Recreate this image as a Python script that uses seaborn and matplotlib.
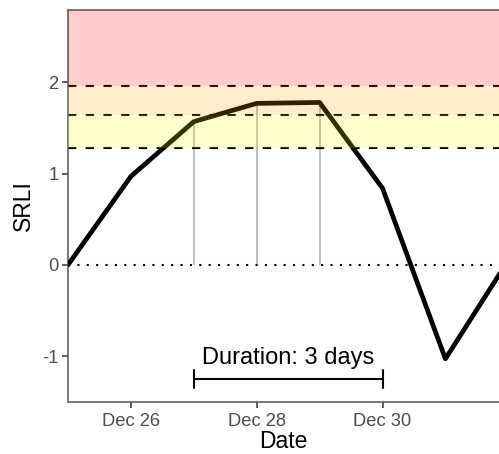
import numpy as np
import pandas as pd
import matplotlib
matplotlib.use("Agg")
import matplotlib.pyplot as plt
import matplotlib.dates as mdates
import seaborn as sns

# ---- data ----
dates = pd.date_range("2023-12-25", "2024-01-01", freq="D")
srli = [0.0, 0.97, 1.57, 1.77, 1.78, 0.84, -1.03, 0.05]
thresholds = [1.28, 1.645, 1.96]
band_colors = ["yellow", "orange", "red"]
event_dates = pd.to_datetime(["2023-12-27", "2023-12-28", "2023-12-29"])
event_values = [1.57, 1.77, 1.78]
duration_start = pd.Timestamp("2023-12-27")
duration_end = pd.Timestamp("2023-12-30")
duration_label = "Duration: 3 days"
duration_y = -1.25
tick_dates = pd.to_datetime(["2023-12-26", "2023-12-28", "2023-12-30"])
ytick_vals = [-1, 0, 1, 2]
ylim = (-1.5, 2.79)
xlim = (pd.Timestamp("2023-12-25"), pd.Timestamp("2023-12-25") + pd.Timedelta(days=6.852))

df = pd.DataFrame({"Date": dates, "SRLI": srli})

sns.set_theme(style="white")
plt.rcParams["font.family"] = ["Liberation Sans", "DejaVu Sans"]

fig = plt.figure(figsize=(4.99, 4.54), dpi=100)
ax = fig.add_axes([0.1363, 0.1152, 1 - 0.1363, 0.8621])

# grey event lines
ax.vlines(event_dates, 0, event_values, color="#BEBEBE", lw=1.4, zorder=1)
# zero dotted line
ax.axhline(0, color="black", lw=1.5, linestyle=(0, (1, 3.5)), zorder=2)
# threshold dashed lines
for t in thresholds:
    ax.axhline(t, color="black", lw=1.5, linestyle=(0, (4, 4.5)), zorder=2)

sns.lineplot(data=df, x="Date", y="SRLI", color="black", lw=3.4, ax=ax, zorder=3)

# bands drawn on top with transparency
edges = thresholds + [ylim[1] + 1]
for lo, hi, c in zip(edges[:-1], edges[1:], band_colors):
    ax.axhspan(lo, hi, color=c, alpha=0.2, lw=0, zorder=4)

# duration bar
ax.plot([duration_start, duration_end], [duration_y, duration_y], color="black", lw=1.5, zorder=5)
for d in [duration_start, duration_end]:
    ax.plot([d, d], [duration_y - 0.1, duration_y + 0.1], color="black", lw=1.5, zorder=5)
mid = duration_start + (duration_end - duration_start) / 2
ax.text(mid, -1.09, duration_label, ha="center", va="baseline", fontsize=17, color="black", zorder=6)

ax.set_xlim(*xlim)
ax.set_ylim(*ylim)
ax.set_xticks(tick_dates)
ax.xaxis.set_major_formatter(mdates.DateFormatter("%b %d"))
ax.set_yticks(ytick_vals)
ax.set_yticklabels([str(v) for v in ytick_vals])

for s in ["left", "top", "bottom"]:
    ax.spines[s].set_color("#555555")
    ax.spines[s].set_linewidth(1.1)
ax.spines["right"].set_visible(False)
ax.tick_params(axis="both", which="major", length=4, width=1.1, color="#333333",
               labelcolor="#4D4D4D", labelsize=13.2, bottom=True, left=True)
ax.tick_params(axis="x", pad=4)
ax.tick_params(axis="y", pad=3)
ax.set_xlabel("Date", fontsize=16.5, color="black", labelpad=0)
ax.set_ylabel("SRLI", fontsize=16.5, color="black", labelpad=5)
ax.grid(False)

fig.savefig("out.png", dpi=100)
